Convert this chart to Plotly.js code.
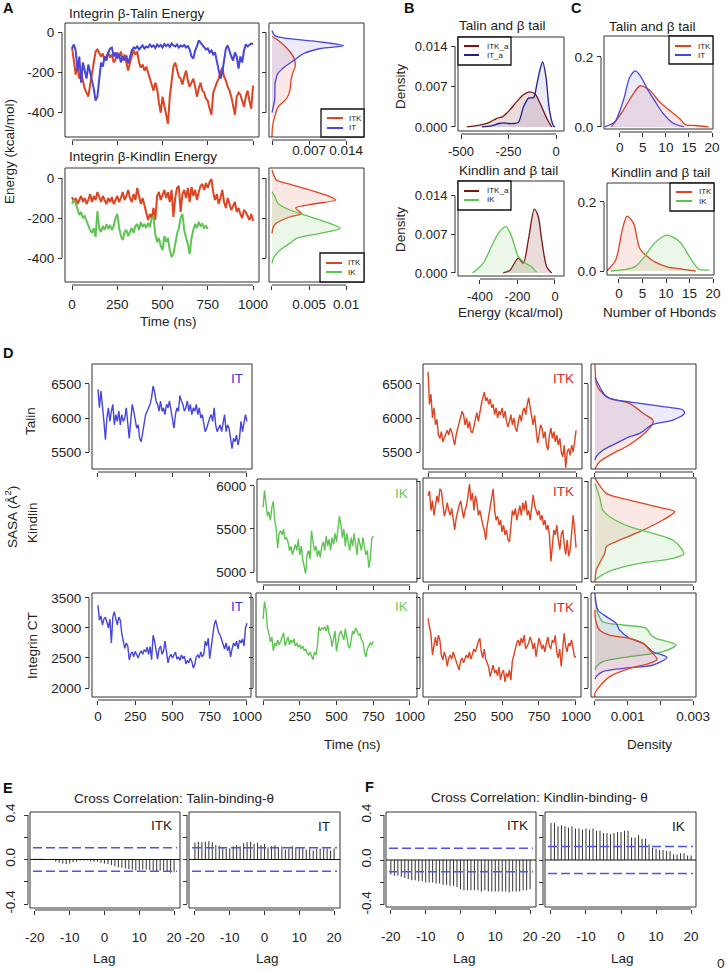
<!DOCTYPE html>
<html><head><meta charset="utf-8">
<script src="https://cdn.plot.ly/plotly-3.0.1.min.js"></script>
<style>html,body{margin:0;padding:0;background:#fff}#chart{width:726px;height:970px}</style>
</head><body><div id="chart"></div>
<script>
// ================= DATA =================
// Panel A: interaction energy time series (kcal/mol), sampled every 10 ns
const A1_ITK = [-75,-150,-210,-170,-230,-200,-250,-280,-300,-320,
-260,-200,-130,-95,-85,-100,-120,-105,-140,-120,
-100,-125,-110,-150,-135,-100,-120,-95,-140,-110,
-160,-190,-150,-120,-88,-110,-95,-150,-175,-160,
-190,-170,-200,-220,-260,-290,-250,-280,-350,-400,
-320,-360,-400,-455,-320,-240,-170,-150,-190,-220,
-230,-260,-220,-190,-240,-270,-250,-230,-270,-320,
-280,-250,-290,-300,-330,-340,-380,-410,-300,-270,
-250,-230,-200,-175,-220,-240,-270,-290,-320,-370,
-410,-320,-300,-310,-340,-370,-320,-290,-340,-380,-265];
const A1_IT = [-80,-60,-90,-190,-120,-250,-150,-200,-230,-160,
-210,-240,-280,-340,-320,-230,-150,-170,-120,-140,
-100,-80,-75,-120,-100,-130,-110,-150,-120,-140,
-115,-155,-120,-90,-75,-80,-70,-85,-75,-65,
-80,-70,-75,-60,-72,-65,-78,-60,-70,-62,
-75,-58,-68,-60,-72,-55,-65,-70,-60,-75,
-65,-70,-62,-75,-68,-85,-120,-130,-90,-70,
-40,-50,-60,-75,-85,-80,-100,-90,-110,-100,
-140,-180,-230,-200,-130,-80,-65,-100,-120,-140,
-100,-120,-180,-120,-150,-90,-60,-70,-60,-55,-60];
const A2_ITK = [-95,-120,-100,-130,-110,-90,-120,-100,-130,-110,
-80,-120,-90,-110,-70,-100,-120,-90,-110,-130,
-100,-120,-95,-130,-110,-90,-120,-100,-70,-110,
-90,-60,-100,-120,-80,-110,-50,-90,-130,-100,
-140,-170,-210,-180,-200,-150,-210,-90,-70,-110,
-80,-60,-100,-70,-120,-60,-195,-100,-50,-40,
-170,-80,-60,-100,-50,-120,-45,-90,-60,-110,
-70,-40,-30,-60,-25,-50,-20,-5,-70,-110,
-80,-130,-100,-60,-120,-150,-100,-130,-160,-140,
-120,-170,-150,-180,-200,-160,-170,-190,-210,-180,-215];
const A2_IK = [-130,-110,-125,-160,-185,-170,-200,-190,-215,-240,
-260,-275,-250,-295,-165,-250,-270,-240,-260,-230,
-255,-235,-260,-240,-200,-180,-250,-290,-310,-270,
-260,-290,-270,-250,-275,-240,-230,-260,-220,-245,
-230,-250,-225,-245,-200,-195,-280,-320,-300,-340,
-360,-290,-320,-300,-360,-395,-380,-320,-280,-250,
-200,-180,-260,-300,-330,-380,-300,-260,-230,-250,
-220,-240,-230,-250,-240,-255];
// Panel A: energy densities (density, energy)
const A1D_IT_dens = [0,0.0005,0.0028,0.0091,0.0135,0.0091,0.006,0.0042,0.002,0.0011,0.0006,0.0005,0.0001,0];
const A1D_IT_en   = [10,-15,-30,-47,-66,-80,-105,-138,-180,-205,-253,-337,-387,-400];
const A1D_ITK_dens = [0,0.0011,0.0025,0.0035,0.0042,0.0044,0.004,0.0036,0.0034,0.0028,0.0012,0.0006,0.0001,0];
const A1D_ITK_en   = [-20,-38,-70,-100,-130,-171,-196,-237,-287,-328,-370,-411,-470,-520];
const A2D_ITK_dens = [0,0.0006,0.002,0.0051,0.0078,0.0086,0.0056,0.0032,0.0036,0.004,0.0024,0.0006,0.0002,0];
const A2D_ITK_en   = [40,-10,-27,-60,-93,-110,-130,-150,-165,-178,-195,-225,-243,-277];
const A2D_IK_dens = [0,0.0004,0.0008,0.0024,0.0051,0.0078,0.0092,0.0065,0.0033,0.0024,0.0011,0.0003,0];
const A2D_IK_en   = [-68,-93,-127,-160,-193,-227,-252,-277,-302,-327,-360,-393,-427];
// Panel B: energy densities
const B1_ITKa_en = [-470,-400,-350,-312,-280,-242,-207,-172,-137,-110,-84,-49,-23];
const B1_ITKa_d  = [0,0.0003,0.0008,0.0015,0.0018,0.003,0.0044,0.0056,0.0061,0.0057,0.0041,0.0015,0];
const B1_ITa_en = [-390,-340,-300,-277,-250,-220,-198,-171,-145,-118,-101,-83,-70,-53,-35,-14,-5];
const B1_ITa_d  = [0,0.0002,0.0006,0.0007,0.0006,0.0006,0.0008,0.0035,0.005,0.0051,0.0074,0.0101,0.0113,0.0087,0.003,0.0002,0];
const B2_ITKa_en = [-276,-240,-196,-169,-142,-110,-89,-71,-44,-18];
const B2_ITKa_d  = [0,0.0005,0.0027,0.0018,0.006,0.0116,0.0102,0.006,0.0011,0];
const B2_IK_en = [-439,-382,-347,-302,-261,-231,-196,-160,-124,-98];
const B2_IK_d  = [0,0.0018,0.0042,0.0072,0.0084,0.0066,0.003,0.0018,0.0011,0.0001];
// Panel C: H-bond densities
const C1_IT_hb = [-3.2,-1,0,1,2.1,3.4,4.6,6.1,7.9,9.3,11.4,13.9];
const C1_IT_d  = [0,0.015,0.045,0.085,0.14,0.16,0.143,0.106,0.068,0.04,0.012,0];
const C1_ITK_hb = [-1.8,0.7,2.9,4.4,6.4,8.6,10.7,12.9,14.3,16.5,19.3];
const C1_ITK_d  = [0,0.046,0.094,0.117,0.106,0.072,0.048,0.025,0.006,0.004,0];
const C2_ITK_hb = [-2.6,-0.7,0.7,1.7,3.1,4.4,6.1,7.5,10.2,13.6,16.3];
const C2_ITK_d  = [0,0.032,0.119,0.159,0.138,0.066,0.041,0.027,0.012,0.005,0];
const C2_IK_hb = [-1.7,1,3.4,5.4,7.5,10.2,12.9,15,17,19.2];
const C2_IK_d  = [0,0.004,0.012,0.041,0.08,0.104,0.085,0.041,0.005,0.003];
// Panel D: SASA time series (Å²), every 10 ns
const D_IT_TALIN = [6420,6150,6400,6100,5950,5680,6000,6150,5950,6100,
6200,5900,6050,5950,6100,5900,6050,5950,6000,6150,
5850,5700,5950,6200,6100,5950,5850,5900,5700,5650,
5800,5900,6050,6100,6150,6200,6300,6470,6380,6250,
6200,6100,6250,6100,6150,6050,6200,6150,6250,6100,
6000,5850,6050,6150,6100,6330,6250,6200,6100,6150,
6250,6100,6200,6050,6150,6100,6200,6050,6150,6000,
6050,5950,5800,5850,5950,6000,6050,5950,6150,5900,
5800,5850,5900,5800,5950,6050,5800,5900,5850,5700,
5550,5700,5650,5750,5600,5700,5950,5800,5950,6050,5950];
const D_ITK_TALIN = [6680,6200,6350,6000,6150,5900,5980,5750,5700,5800,
5650,5700,5750,5820,5750,5850,5800,5700,5600,5750,
5850,5900,6000,6100,6050,5900,6000,5850,5950,5800,
5780,5900,6000,6080,5950,6100,6200,6300,6380,6250,
6300,6200,6280,6150,6200,6050,6150,6000,6100,6050,
6150,6000,6100,5950,5870,5950,6050,5900,6000,5850,
5800,5950,6050,5950,6100,6150,6050,6200,6300,6150,
6050,5900,6040,5800,5630,5750,5900,5850,5700,5800,
5600,5530,5750,5850,5700,5800,5650,5750,5600,5700,
5500,5430,5600,5270,5500,5550,5450,5600,5500,5650,5820];
const D_IK_KINDLIN = [5750,5950,5800,5650,5700,5600,5750,5820,5600,5500,
5280,5450,5480,5430,5500,5380,5400,5350,5250,5300,
5200,5280,5320,5250,5380,5200,5300,5150,5050,4980,
5200,5250,5150,5480,5350,5250,5300,5180,5250,5170,
5300,5350,5250,5420,5300,5380,5250,5400,5320,5450,
5350,5500,5650,5550,5400,5500,5300,5450,5350,5250,
5400,5300,5450,5350,5200,5400,5300,5250,5400,5300,
5200,5250,5050,5150,5380,5420];
const D_ITK_KINDLIN = [5850,5900,5700,5800,5650,5750,5850,5780,5920,5900,
5750,5640,5700,5780,5700,5650,5720,5600,5500,5620,
5700,5750,5800,5680,5620,5700,5750,5850,5970,5800,
5880,5700,5850,5780,5650,5700,5600,5550,5500,5400,
5550,5650,5750,5850,5920,5700,5600,5640,5550,5600,
5480,5550,5450,5500,5400,5380,5550,5700,5650,5720,
5600,5700,5750,5650,5780,5700,5800,5650,5700,5600,
5750,5860,5750,5700,5650,5700,5600,5650,5550,5600,
5500,5550,5450,5180,5350,5500,5450,5550,5400,5300,
5450,5500,5350,5250,5400,5230,5300,5500,5650,5500,5320];
const D_IT_CT = [3380,3130,3200,3050,3150,3180,3100,3000,3150,2750,
3190,3270,3150,3050,3180,3130,2900,2800,2660,2750,
2700,2470,2560,2600,2520,2610,2560,2500,2580,2620,
2560,2640,2600,2680,2560,2690,2470,2880,2780,2600,
2480,2650,2700,2560,2620,2780,2550,2420,2520,2560,
2500,2540,2600,2480,2520,2460,2550,2490,2530,2400,
2460,2420,2500,2440,2330,2400,2520,2550,2500,2600,
2520,2560,2780,2700,2830,2490,2700,2900,3050,3130,
3000,2920,2880,2800,2700,2650,2750,2620,2700,2520,
2650,2750,2700,2780,2650,2800,2750,2820,2700,3000,3080];
const D_IK_CT = [3150,3440,3300,3000,2900,2770,2850,2620,2750,2700,
2800,2720,2780,2850,2920,2700,2800,2850,2720,2800,
2750,2820,2700,2750,2680,2720,2650,2700,2620,2650,
2580,2550,2600,2520,2470,2600,2550,2700,3020,2950,
3000,2980,3020,2950,3050,2900,2850,2690,2800,2950,
2610,2750,2900,2950,2850,2800,2990,2850,2700,2660,
2850,2950,2900,3000,2950,2880,2900,2800,2770,2600,
2520,2650,2700,2750,2720,2780];
const D_ITK_CT = [3160,3000,2880,2550,2750,2850,2700,2880,2800,2550,
2470,2600,2520,2360,2500,2550,2480,2600,2520,2450,
2400,2300,2450,2500,2420,2480,2550,2500,2600,2480,
2550,2650,2600,2700,2770,2830,2600,2500,2650,2480,
2400,2350,2190,2300,2380,2250,2300,2200,2350,2130,
2250,2300,2100,2250,2180,2300,2130,2450,2550,2690,
2750,2800,2700,2830,2750,2880,2650,2700,2750,2850,
2780,2650,2750,2520,2700,2830,2750,2650,2720,2600,
2750,2850,2700,2650,2800,2750,2880,2600,2500,2650,
2360,2600,2910,2700,2600,2750,2700,2800,2650,2520,2520];
// Panel D: SASA densities (density, SASA)
const D1_IT_dens = [0,0.0002,0.00035,0.00065,0.00137,0.00208,0.00269,0.00274,0.00238,0.00177,0.00137,0.00106,0.00065,0.00025,0.00004,0];
const D1_IT_sasa = [6600,6412,6313,6265,6216,6166,6118,6069,5970,5905,5775,5725,5627,5529,5431,5380];
const D1_ITK_dens = [0,0.00002,0.00004,0.00014,0.00045,0.00106,0.00147,0.00177,0.00177,0.00157,0.00126,0.00096,0.00055,0.00014,0.00004,0];
const D1_ITK_sasa = [6794,6600,6510,6412,6289,6216,6069,5970,5921,5799,5676,5578,5480,5357,5284,5250];
const D2_ITK_dens = [0,0.00035,0.00106,0.00187,0.00244,0.00208,0.00137,0.00065,0.00035,0.0003,0.00014,0.00004,0];
const D2_ITK_sasa = [6031,5874,5806,5738,5687,5602,5483,5381,5330,5262,5160,5092,4969];
const D2_IK_dens = [0,0.00014,0.00024,0.00045,0.00106,0.00177,0.00238,0.00264,0.00272,0.00238,0.00137,0.00055,0.00014,0];
const D2_IK_sasa = [5976,5840,5704,5636,5534,5466,5398,5313,5255,5211,5160,5092,5024,4983];
const D3_IT_dens = [0,0.00009,0.00035,0.00065,0.00075,0.00106,0.00147,0.00177,0.0022,0.00177,0.00086,0.00024,0.00004,0];
const D3_IT_sasa = [3583,3300,3189,3078,2967,2828,2745,2605,2511,2383,2328,2272,2189,2150];
const D3_IK_dens = [0,0.00009,0.00024,0.00086,0.00157,0.00171,0.00187,0.00248,0.00208,0.00106,0.00024,0.00004,0];
const D3_IK_sasa = [3500,3244,3105,3050,2994,2883,2828,2717,2605,2522,2439,2356,2300];
const D3_ITK_dens = [0,0.00002,0.00014,0.00045,0.00106,0.00147,0.00167,0.0019,0.00167,0.00106,0.00045,0.00014,0,0];
const D3_ITK_sasa = [3300,3133,2967,2883,2828,2745,2633,2478,2411,2328,2189,2022,1911,1850];
// Panels E, F: cross-correlation at lags -20..20
const LAGS = [-20,-19,-18,-17,-16,-15,-14,-13,-12,-11,-10,-9,-8,-7,-6,-5,-4,-3,-2,-1,0,1,2,3,4,5,6,7,8,9,10,11,12,13,14,15,16,17,18,19,20];
const E_ITK = [0.01,0.01,0.01,0.005,0,-0.005,-0.02,-0.03,-0.035,-0.04,-0.035,-0.025,-0.02,-0.01,-0.01,-0.01,-0.015,-0.02,-0.02,-0.03,-0.035,-0.04,-0.05,-0.06,-0.07,-0.075,-0.08,-0.085,-0.09,-0.1,-0.095,-0.09,-0.09,-0.095,-0.1,-0.11,-0.1,-0.1,-0.11,-0.12,-0.115];
const E_IT = [0.15,0.16,0.155,0.16,0.165,0.155,0.13,0.125,0.11,0.1,0.1,0.12,0.13,0.12,0.145,0.155,0.16,0.14,0.15,0.13,0.14,0.11,0.12,0.13,0.11,0.12,0.09,0.1,0.12,0.11,0.11,0.11,0.09,0.1,0.08,0.1,0.1,0.1,0.1,0.08,0.1];
const F_ITK = [-0.13,-0.14,-0.14,-0.15,-0.16,-0.17,-0.18,-0.18,-0.19,-0.19,-0.2,-0.2,-0.2,-0.21,-0.21,-0.22,-0.22,-0.23,-0.23,-0.24,-0.26,-0.27,-0.27,-0.27,-0.27,-0.27,-0.28,-0.27,-0.28,-0.28,-0.28,-0.28,-0.28,-0.28,-0.29,-0.28,-0.28,-0.28,-0.27,-0.27,-0.26];
const F_IK = [0.33,0.33,0.3,0.31,0.3,0.29,0.3,0.28,0.28,0.27,0.28,0.27,0.28,0.26,0.26,0.24,0.24,0.23,0.24,0.25,0.25,0.26,0.26,0.2,0.2,0.22,0.19,0.19,0.14,0.11,0.1,0.09,0.09,0.08,0.08,0.05,0.05,0.06,0.06,0.04,0.04];
const CI = [0.105, 0.105, 0.105, 0.12];
// tick values / labels
const T5 = [0,250,500,750,1000], T5L = ['0','250','500','750','1000'], T5L0 = ['','250','500','750','1000'];
const DT = [0,0.001,0.002,0.003];
const LAG5 = [-20,-10,0,10,20], LAG5L = ['-20','-10','0','10','20'];
const ACFY = [-0.4,-0.2,0,0.2,0.4], ACFYL = ['-0.4','','0.0','','0.4'];

// ================= STYLE / LAYOUT =================
const W = 726, H = 970;
const FONT = '"Liberation Sans", Arial, Helvetica, sans-serif';
const FS = 13.5;
const COL = {ITK:'#dd4422', IT:'#4646dc', IK:'#5fc552', ITKa:'#7b1515', ITa:'#1f1f8f'};
const FILL = {ITK:'rgba(221,68,34,0.12)', IT:'rgba(70,70,220,0.11)', IK:'rgba(95,197,82,0.13)', ITKa:'rgba(123,21,21,0.15)', ITa:'rgba(31,31,143,0.09)'};
const tGrid = n => Array.from({length:n}, (_, i) => i * 10);

const P = [
 {box:[65,23,259,137], xr:[-39,1033], yr:[-521,47], xt:T5, yt:[-400,-200,0], yl:['-400','-200','0']},
 {box:[269,23,364,137], xr:[-0.00057,0.0174], yr:[-521,47], xt:[0,0.007,0.014], xl:['','0.007','0.014'], yt:[-400,-200,0], xso:-6},
 {box:[65,168,259,282], xr:[-39,1033], yr:[-520,50], xt:T5, xl:T5L, yt:[-400,-200,0], yl:['-400','-200','0'], xso:3},
 {box:[269,168,364,282], xr:[-0.0004,0.0124], yr:[-520,50], xt:[0,0.005,0.01], xl:['','0.005','0.01'], yt:[-400,-200,0], xso:3},
 {box:[458,37,564,131], xr:[-516,42], yr:[-0.0007,0.0156], xt:[-500,-250,0], xl:['-500','-250','0'], yt:[0,0.007,0.014], yl:['0.000','0.007','0.014'], fs:13},
 {box:[458,181,564,276], xr:[-517,48], yr:[-0.00055,0.0167], xt:[-400,-200,0], xl:['-400','-200','0'], yt:[0,0.007,0.014], yl:['0.000','0.007','0.014'], fs:13},
 {box:[604,36,713,129], xr:[-3.4,20.2], yr:[-0.006,0.26], xt:[0,5,10,15,20], xl:['0','5','10','15','20'], yt:[0,0.2], yl:['0.0','0.2'], xso:-1},
 {box:[607,183,714,275], xr:[-2.55,20.2], yr:[-0.0116,0.255], xt:[0,5,10,15,20], xl:['0','5','10','15','20'], yt:[0,0.2], yl:['0.0','0.2'], xso:-1},
 {box:[92,364,252,469], xr:[-40,1034], yr:[5250,6794], xt:T5, yt:[5500,6000,6500], yl:['5500','6000','6500']},
 {box:[423,364,582,469], xr:[-34,1040], yr:[5250,6794], xt:T5, yt:[5500,6000,6500], yl:['5500','6000','6500']},
 {box:[591,364,696,469], xr:[-0.00012,0.00309], yr:[5250,6794], xt:DT, yt:[5500,6000,6500]},
 {box:[257,479,417,582], xr:[-41,1048], yr:[4884,6081], xt:T5, yt:[5000,5500,6000], yl:['5000','5500','6000']},
 {box:[423,478,582,582], xr:[-34,1040], yr:[4969,6031], xt:T5, yt:[5000,5500,6000]},
 {box:[591,478,696,582], xr:[-0.00012,0.00309], yr:[4969,6031], xt:DT, yt:[5000,5500,6000]},
 {box:[92,593,251,697], xr:[-40,1027], yr:[1850,3583], xt:T5, xl:T5L, yt:[2000,2500,3000,3500], yl:['2000','2500','3000','3500'], xso:0},
 {box:[256,593,417,697], xr:[-48,1048], yr:[1850,3583], xt:T5, xl:T5L0, yt:[2000,2500,3000,3500], xso:0},
 {box:[423,593,581,697], xr:[-34,1034], yr:[1850,3583], xt:T5, xl:T5L0, yt:[2000,2500,3000,3500], xso:0},
 {box:[591,593,696,697], xr:[-0.00012,0.00309], yr:[1850,3583], xt:DT, xl:['','0.001','','0.003'], yt:[2000,2500,3000,3500], xso:0},
 {box:[30,812,180,908], xr:[-21.4,21.7], yr:[-0.436,0.427], xt:LAG5, xl:LAG5L, yt:ACFY, yl:ACFYL, xso:11, yang:-90, yso:4, gap:2},
 {box:[189,812,340,908], xr:[-21.7,21.7], yr:[-0.436,0.427], xt:LAG5, xl:LAG5L, yt:ACFY, xso:11, gap:2},
 {box:[386,812,536,907], xr:[-21.4,21.7], yr:[-0.418,0.427], xt:LAG5, xl:LAG5L, yt:ACFY, yl:ACFYL, xso:11, yang:-90, yso:4, gap:2},
 {box:[545,812,696,907], xr:[-21.7,21.4], yr:[-0.418,0.427], xt:LAG5, xl:LAG5L, yt:ACFY, xso:11, gap:2}
];

const ax = (l, n) => n === 1 ? l : l + n;
const layout = {
  width: W, height: H, autosize: false,
  margin: {l:0, r:0, t:0, b:0, pad:0},
  paper_bgcolor: '#ffffff', plot_bgcolor: 'rgba(0,0,0,0)',
  showlegend: false,
  font: {family: FONT, size: FS, color: '#222'},
  shapes: [], annotations: []
};
const shapes = layout.shapes, ann = layout.annotations;

// labelled ticks as major ticks, unlabelled ticks as minor ticks of the same look
function tickSpec(vals, labels) {
  if (!labels) return {tickvals: vals, ticktext: vals.map(String), showticklabels: false};
  const tv = [], tt = [], mv = [];
  vals.forEach((v, i) => { if (labels[i]) { tv.push(v); tt.push(labels[i]); } else mv.push(v); });
  const o = {tickvals: tv, ticktext: tt, showticklabels: true};
  if (mv.length) o.minor = {tickmode:'array', tickvals: mv, ticks:'outside', ticklen:4, tickwidth:1, tickcolor:'#333', showgrid:false};
  return o;
}

P.forEach((p, i) => {
  const n = i + 1;
  const [x0, y0, x1, y1] = p.box;
  const g = p.gap != null ? p.gap : 3;
  const tf = {family: FONT, size: p.fs || FS, color: '#222'};
  const xpos = 1 - (y1 + g) / H, ypos = (x0 - g) / W;
  layout[ax('xaxis', n)] = Object.assign({
    domain: [x0 / W, x1 / W], range: p.xr, autorange: false, anchor: 'free', position: xpos,
    showline: false, zeroline: false, showgrid: false,
    ticks: 'outside', ticklen: 4, tickwidth: 1, tickcolor: '#333', tickmode: 'array',
    tickangle: 0, tickfont: tf, ticklabelstandoff: p.xso != null ? p.xso : 1, fixedrange: true
  }, tickSpec(p.xt, p.xl));
  layout[ax('yaxis', n)] = Object.assign({
    domain: [1 - y1 / H, 1 - y0 / H], range: p.yr, autorange: false, anchor: 'free', position: ypos,
    showline: false, zeroline: false, showgrid: false,
    ticks: 'outside', ticklen: 4, tickwidth: 1, tickcolor: '#333', tickmode: 'array',
    tickangle: p.yang || 0, tickfont: tf, ticklabelstandoff: p.yso != null ? p.yso : 1, fixedrange: true
  }, tickSpec(p.yt, p.yl));
  // R-style detached axis lines (first to last tick)
  shapes.push({type:'line', xref: ax('x', n), yref:'paper', x0: p.xt[0], x1: p.xt[p.xt.length-1], y0: xpos, y1: xpos, line:{color:'#333', width:1}});
  shapes.push({type:'line', xref:'paper', yref: ax('y', n), x0: ypos, x1: ypos, y0: p.yt[0], y1: p.yt[p.yt.length-1], line:{color:'#333', width:1}});
  // plot box
  shapes.push({type:'rect', xref: ax('x', n) + ' domain', yref: ax('y', n) + ' domain', x0:0, x1:1, y0:0, y1:1, line:{color:'#333', width:1}, fillcolor:'rgba(0,0,0,0)'});
});

// ================= TRACES =================
const traces = [];
function series(n, x, y, c, w) {
  traces.push({type:'scatter', mode:'lines', x, y, xaxis: ax('x', n), yaxis: ax('y', n), line:{color: c, width: w}, hoverinfo:'skip', showlegend:false});
}
function dens(n, x, y, key, horiz, w) {
  traces.push({type:'scatter', mode:'lines', x, y, xaxis: ax('x', n), yaxis: ax('y', n),
    line:{color: COL[key], width: w || 1.3, shape:'spline', smoothing:0.8},
    fill: horiz ? 'tozerox' : 'tozeroy', fillcolor: FILL[key], hoverinfo:'skip', showlegend:false});
}
function acf(n, y) {
  traces.push({type:'bar', x: LAGS, y, xaxis: ax('x', n), yaxis: ax('y', n), width:0.3, offset:-0.15,
    marker:{color:'#3a3a3a', line:{width:0}}, hoverinfo:'skip', showlegend:false});
}
// A
series(1, tGrid(A1_ITK.length), A1_ITK, COL.ITK, 2);
series(1, tGrid(A1_IT.length), A1_IT, COL.IT, 2);
dens(2, A1D_ITK_dens, A1D_ITK_en, 'ITK', true);
dens(2, A1D_IT_dens, A1D_IT_en, 'IT', true);
series(3, tGrid(A2_ITK.length), A2_ITK, COL.ITK, 2);
series(3, tGrid(A2_IK.length), A2_IK, COL.IK, 2);
dens(4, A2D_ITK_dens, A2D_ITK_en, 'ITK', true);
dens(4, A2D_IK_dens, A2D_IK_en, 'IK', true);
// B
dens(5, B1_ITKa_en, B1_ITKa_d, 'ITKa', false);
dens(5, B1_ITa_en, B1_ITa_d, 'ITa', false);
dens(6, B2_ITKa_en, B2_ITKa_d, 'ITKa', false);
dens(6, B2_IK_en, B2_IK_d, 'IK', false);
// C
dens(7, C1_ITK_hb, C1_ITK_d, 'ITK', false);
dens(7, C1_IT_hb, C1_IT_d, 'IT', false);
dens(8, C2_ITK_hb, C2_ITK_d, 'ITK', false);
dens(8, C2_IK_hb, C2_IK_d, 'IK', false);
// D
series(9, tGrid(D_IT_TALIN.length), D_IT_TALIN, COL.IT, 1.4);
series(10, tGrid(D_ITK_TALIN.length), D_ITK_TALIN, COL.ITK, 1.4);
dens(11, D1_ITK_dens, D1_ITK_sasa, 'ITK', true);
dens(11, D1_IT_dens, D1_IT_sasa, 'IT', true);
series(12, tGrid(D_IK_KINDLIN.length), D_IK_KINDLIN, COL.IK, 1.4);
series(13, tGrid(D_ITK_KINDLIN.length), D_ITK_KINDLIN, COL.ITK, 1.4);
dens(14, D2_ITK_dens, D2_ITK_sasa, 'ITK', true);
dens(14, D2_IK_dens, D2_IK_sasa, 'IK', true);
series(15, tGrid(D_IT_CT.length), D_IT_CT, COL.IT, 1.4);
series(16, tGrid(D_IK_CT.length), D_IK_CT, COL.IK, 1.4);
series(17, tGrid(D_ITK_CT.length), D_ITK_CT, COL.ITK, 1.4);
dens(18, D3_IK_dens, D3_IK_sasa, 'IK', true);
dens(18, D3_IT_dens, D3_IT_sasa, 'IT', true);
dens(18, D3_ITK_dens, D3_ITK_sasa, 'ITK', true);
// E, F
acf(19, E_ITK); acf(20, E_IT); acf(21, F_ITK); acf(22, F_IK);
[19,20,21,22].forEach((n, k) => {
  shapes.push({type:'line', xref: ax('x', n) + ' domain', yref: ax('y', n), x0:0, x1:1, y0:0, y1:0, line:{color:'#111', width:1.2}});
  [CI[k], -CI[k]].forEach(v => shapes.push({type:'line', xref: ax('x', n) + ' domain', yref: ax('y', n), x0:0.02, x1:0.98, y0:v, y1:v, line:{color:'#5151f0', width:1.4, dash:'9px,4px'}}));
});

// ================= TEXT =================
function txt(t, x, y, o) {
  o = o || {};
  return {text: t, x: x / W, y: 1 - y / H, xref:'paper', yref:'paper', showarrow:false,
    xanchor: o.xa || 'center', yanchor:'middle', textangle: o.ang || 0,
    font:{family: FONT, size: o.size || FS, color: o.color || '#222'}};
}
[['A',8,8],['B',409,8],['C',576,8],['D',8,353],['E',8,788],['F',369,787]].forEach(a => ann.push(txt('<b>' + a[0] + '</b>', a[1], a[2], {size:14.5, color:'#111'})));
ann.push(txt('Integrin β-Talin Energy', 67, 14, {xa:'left'}));
ann.push(txt('Integrin β-Kindlin Energy', 67, 157, {xa:'left'}));
ann.push(txt('Energy (kcal/mol)', 9, 152, {ang:-90}));
ann.push(txt('Time (ns)', 168, 322));
ann.push(txt('Talin and β tail', 503, 25));
ann.push(txt('Kindlin and β tail', 508, 170));
ann.push(txt('Density', 400, 87, {ang:-90}));
ann.push(txt('Density', 400, 230, {ang:-90}));
ann.push(txt('Energy (kcal/mol)', 510, 313));
ann.push(txt('Talin and β tail', 652, 26));
ann.push(txt('Kindlin and β tail', 660, 172));
ann.push(txt('Number of Hbonds', 660, 313));
ann.push(txt('Talin', 30, 421, {ang:-90}));
ann.push(txt('SASA (Å<sup>2</sup>)', 11, 517, {ang:-90}));
ann.push(txt('Kindlin', 32, 523, {ang:-90}));
ann.push(txt('Integrin CT', 32, 646, {ang:-90}));
const TAGC = {IT:'#3b3bd6', IK:'#6acb5a', ITK:'#dd2a2a'};
[['IT',245,379],['ITK',576,379],['IK',410,493],['ITK',576,491],['IT',245,606],['IK',410,606],['ITK',576,607]]
  .forEach(a => ann.push(txt(a[0], a[1], a[2], {xa:'right', color: TAGC[a[0]]})));
ann.push(txt('Time (ns)', 352, 744));
ann.push(txt('Density', 649, 744));
ann.push(txt('Cross Correlation: Talin-binding-θ', 174, 798));
ann.push(txt('Cross Correlation: Kindlin-binding- θ', 539, 797));
[['ITK',174,825],['IT',332,826],['ITK',530,825],['IK',687,826]].forEach(a => ann.push(txt(a[0], a[1], a[2], {xa:'right'})));
[[104,958],[267,958],[464,958],[622,958]].forEach(a => ann.push(txt('Lag', a[0], a[1])));
ann.push(txt('0', 721, 963));

// legends
function legend(b, entries, lx0, lx1, tx) {
  shapes.push({type:'rect', xref:'paper', yref:'paper', x0: b[0] / W, x1: b[2] / W, y0: 1 - b[1] / H, y1: 1 - b[3] / H, line:{color:'#111', width:1.3}, fillcolor:'#ffffff'});
  entries.forEach(e => {
    shapes.push({type:'line', xref:'paper', yref:'paper', x0: lx0 / W, x1: lx1 / W, y0: 1 - e[2] / H, y1: 1 - e[2] / H, line:{color: COL[e[0]], width:2}});
    ann.push(txt(e[1], tx, e[2], {xa:'left', size:8}));
  });
}
legend([321,109,364,137], [['ITK','ITK',118],['IT','IT',128]], 327, 343, 347);
legend([320,253,364,282], [['ITK','ITK',263],['IK','IK',272]], 326, 342, 346);
legend([458,37,511,65], [['ITKa','ITK_a',46],['ITa','IT_a',55]], 464, 479, 485);
legend([458,181,511,210], [['ITKa','ITK_a',191],['IK','IK',200]], 464, 479, 485);
legend([669,36,713,64], [['ITK','ITK',46],['IT','IT',55]], 675, 691, 696);
legend([670,183,714,211], [['ITK','ITK',192],['IK','IK',201]], 676, 692, 697);

Plotly.newPlot('chart', traces, layout, {staticPlot:true, displayModeBar:false});
</script>
</body></html>
